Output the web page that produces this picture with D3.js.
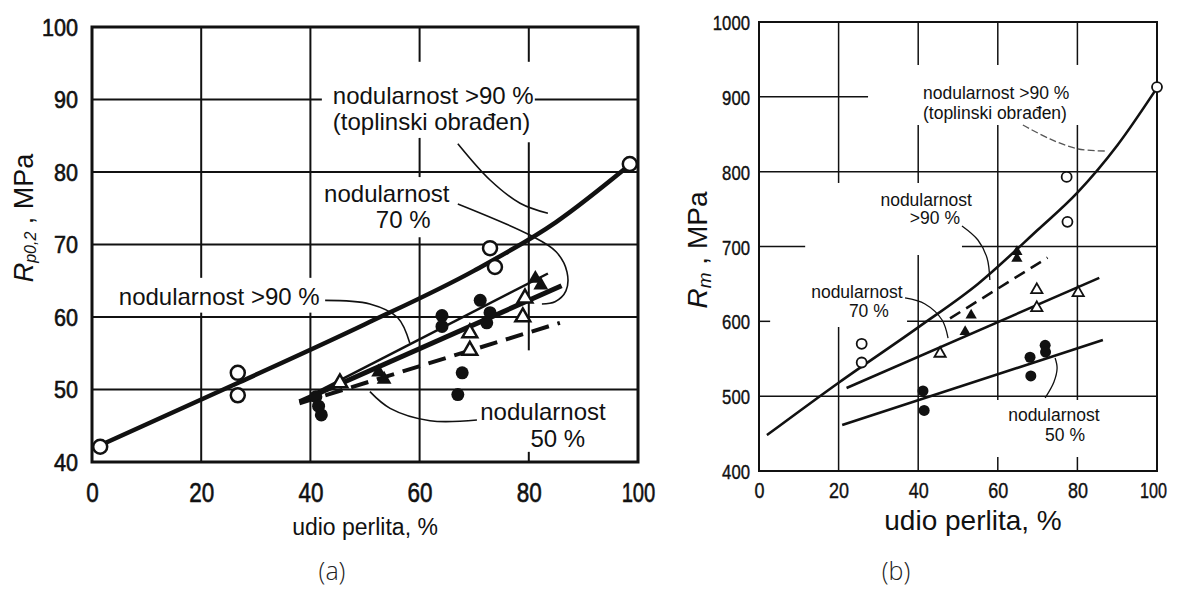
<!DOCTYPE html>
<html>
<head>
<meta charset="utf-8">
<script src="https://cdn.jsdelivr.net/npm/d3@7"></script>
<style>
  html, body { margin: 0; padding: 0; background: #fff; }
  svg { display: block; }
</style>
</head>
<body>
<svg id="fig" width="1177" height="593"></svg>
<script>
// ---------- shared tick values ----------
const xTicks = [0, 20, 40, 60, 80, 100];
const aYTicks = [40, 50, 60, 70, 80, 90, 100];
const bYTicks = [400, 500, 600, 700, 800, 900, 1000];

// ---------- panel (a): yield strength Rp0,2 [MPa] vs pearlite share [%] ----------
const aHeatTreatedPts = [[1.5, 42.1], [26.7, 52.3], [26.7, 49.2], [72.9, 69.5], [73.8, 66.9], [98.5, 81.1]];
const aHeatTreatedLine = [[1.5, 42.3], [27, 51], [50, 59], [70, 66.4], [85, 73.1], [98.5, 81]];
const aNod90Line = [[38, 48.3], [86, 64.3]];
const aNod70Line = [[40, 49.2], [83.5, 66]];
const aNod50Line = [[38, 48.1], [85.7, 59.2]];
const aOpenTriangles = [[45.4, 50.9], [69.2, 57.8], [69.2, 55.4], [79.3, 62.6], [78.9, 60.0]];
const aFilledTriangles = [[52.5, 52.4], [53.5, 51.4], [81.2, 65.3], [82.2, 64.4]];
const aFilledCircles = [[41, 49], [41.5, 47.7], [42, 46.5], [64.1, 60.2], [64.1, 58.7],
                        [71.1, 62.3], [72.9, 60.6], [72.3, 59.2], [67.8, 52.3], [67, 49.3]];

// ---------- panel (b): tensile strength Rm [MPa] vs pearlite share [%] ----------
const bHeatTreatedPts = [[25.8, 545], [25.8, 570], [77.3, 793], [77.5, 733], [100, 913]];
const bHeatTreatedLine = [[2, 448], [20, 518], [40, 592], [55, 650], [70, 722], [80, 772], [90, 835], [100, 912]];
const bNod90Line = [[48, 604], [72.5, 685]];
const bNod70Line = [[22, 511], [85.5, 658]];
const bNod50Line = [[20.9, 461.5], [86.4, 575]];
const bOpenTriangles = [[45.5, 557], [69.8, 642], [69.8, 618], [80.2, 638]];
const bFilledTriangles = [[51.8, 586], [53.3, 608], [64.8, 684], [64.8, 693]];
const bFilledCircles = [[41.2, 507], [41.5, 481], [68.1, 552], [68.3, 527], [71.9, 568], [72, 559]];

// ---------- page ----------
const svg = d3.select('#fig');
svg.append('rect').attr('width', 1177).attr('height', 593).attr('fill', '#fff');

const INK = '#111';
const SANS = "'Liberation Sans', Arial, Helvetica, sans-serif";
const NARROW = "'Liberation Sans Narrow', 'Arial Narrow', 'Liberation Sans', sans-serif";
const plain = d3.format('d');

// split [lo, hi] into visible pieces, leaving out the given gaps
function pieces(lo, hi, gaps) {
  const segs = [];
  let start = lo;
  gaps.slice().sort((p, q) => p[0] - q[0]).forEach(([g0, g1]) => {
    if (g0 > start) segs.push([start, g0]);
    start = Math.max(start, g1);
  });
  if (start < hi) segs.push([start, hi]);
  return segs;
}

function drawPanel(p) {
  const g = svg.append('g');
  const { x, y } = p;
  const [x0, x1] = x.domain();
  const [y0, y1] = y.domain();

  // grid (interrupted where text sits)
  const grid = g.append('g').attr('stroke', INK).attr('stroke-width', p.gridWidth).attr('fill', 'none');
  Object.entries(p.vGaps).forEach(([xv, gaps]) => {
    pieces(y0, y1, gaps).forEach(([a, b]) => {
      grid.append('line').attr('x1', x(+xv)).attr('x2', x(+xv)).attr('y1', y(a)).attr('y2', y(b));
    });
  });
  Object.entries(p.hGaps).forEach(([yv, gaps]) => {
    pieces(x0, x1, gaps).forEach(([a, b]) => {
      grid.append('line').attr('y1', y(+yv)).attr('y2', y(+yv)).attr('x1', x(a)).attr('x2', x(b));
    });
  });

  // frame
  g.append('rect')
    .attr('x', x(x0)).attr('y', y(y1))
    .attr('width', x(x1) - x(x0)).attr('height', y(y0) - y(y1))
    .attr('fill', 'none').attr('stroke', INK).attr('stroke-width', p.frameWidth);

  // tick labels
  const ax = g.append('g')
    .attr('transform', `translate(0,${y(y0) + p.xLabelOffset})`)
    .call(d3.axisBottom(x).tickValues(xTicks).tickFormat(plain).tickSize(0).tickPadding(0));
  ax.select('.domain').remove();
  ax.attr('font-family', NARROW).attr('font-size', p.xTickFont);
  ax.selectAll('text')
    .attr('dy', '0.36em').attr('fill', INK).attr('stroke', INK).attr('stroke-width', p.tickStroke)
    .attr('dx', d => d === 100 ? p.lastTickShift : 0)
    .attr('textLength', d => String(d).length * p.xTickCharW - (d === 100 ? p.xTickCharW * 0.3 : 0))
    .attr('lengthAdjust', 'spacingAndGlyphs');

  const ay = g.append('g')
    .attr('transform', `translate(${x(x0) - p.yLabelOffset},0)`)
    .call(d3.axisLeft(y).tickValues(p.yTicks).tickFormat(plain).tickSize(0).tickPadding(0));
  ay.select('.domain').remove();
  ay.attr('font-family', NARROW).attr('font-size', p.yTickFont);
  ay.selectAll('text')
    .attr('dy', '0.36em').attr('fill', INK).attr('stroke', INK).attr('stroke-width', p.tickStroke)
    .attr('textLength', d => String(d).length * p.yTickCharW)
    .attr('lengthAdjust', 'spacingAndGlyphs');

  // fitted lines
  const straight = d3.line().x(d => x(d[0])).y(d => y(d[1]));
  const smooth = d3.line().x(d => x(d[0])).y(d => y(d[1])).curve(d3.curveMonotoneX);
  p.lines.forEach(l => {
    g.append('path').datum(l.data)
      .attr('d', l.curved ? smooth : straight)
      .attr('fill', 'none').attr('stroke', INK)
      .attr('stroke-width', l.width)
      .attr('stroke-dasharray', l.dash || null);
  });

  // markers
  const tri = d3.symbol().type(d3.symbolTriangle).size(p.triSize);
  g.append('g').selectAll('path.ft').data(p.filledTriangles).join('path')
    .attr('transform', d => `translate(${x(d[0])},${y(d[1])})`)
    .attr('d', tri).attr('fill', INK);
  g.append('g').selectAll('circle').data(p.filledCircles).join('circle')
    .attr('cx', d => x(d[0])).attr('cy', d => y(d[1])).attr('r', p.dotR).attr('fill', INK);
  g.append('g').selectAll('path.ot').data(p.openTriangles).join('path')
    .attr('transform', d => `translate(${x(d[0])},${y(d[1])})`)
    .attr('d', tri).attr('fill', '#fff').attr('stroke', INK).attr('stroke-width', p.markStroke);
  g.append('g').selectAll('circle').data(p.openCircles).join('circle')
    .attr('cx', d => x(d[0])).attr('cy', d => y(d[1])).attr('r', p.ringR)
    .attr('fill', '#fff').attr('stroke', INK).attr('stroke-width', p.markStroke);

  // annotation leaders
  const leader = d3.line().x(d => x(d[0])).y(d => y(d[1])).curve(d3.curveCatmullRom.alpha(0.5));
  p.leaders.forEach(l => {
    g.append('path').datum(l.pts).attr('d', leader)
      .attr('fill', 'none').attr('stroke', l.color || INK)
      .attr('stroke-width', p.leaderWidth)
      .attr('stroke-dasharray', l.dash || null);
  });

  // annotation text
  p.notes.forEach(n => {
    g.append('text')
      .attr('x', x(n.at[0])).attr('y', y(n.at[1]))
      .attr('text-anchor', n.anchor || 'middle')
      .attr('dominant-baseline', 'central')
      .attr('font-family', SANS).attr('font-size', p.noteFont)
      .attr('fill', INK)
      .text(n.text);
  });

  // axis titles
  g.append('text')
    .attr('x', p.xTitle.x).attr('y', p.xTitle.y)
    .attr('text-anchor', 'middle').attr('dominant-baseline', 'central')
    .attr('font-family', SANS).attr('font-size', p.xTitle.size).attr('fill', INK)
    .text('udio perlita, %');

  const yt = g.append('text')
    .attr('transform', `translate(${p.yTitle.x},${p.yTitle.y}) rotate(-90)`)
    .attr('text-anchor', 'middle').attr('dominant-baseline', 'central')
    .attr('font-family', SANS).attr('font-size', p.yTitle.size).attr('fill', INK);
  yt.append('tspan').attr('font-style', 'italic').text('R');
  yt.append('tspan').attr('font-style', 'italic').attr('font-size', p.yTitle.subSize)
    .attr('dy', p.yTitle.subShift).text(p.yTitle.sub);
  yt.append('tspan').attr('dy', -p.yTitle.subShift).text('\u00a0,\u00a0MPa');

  // panel caption
  g.append('text')
    .attr('x', p.caption.x).attr('y', p.caption.y)
    .attr('text-anchor', 'middle').attr('dominant-baseline', 'central')
    .attr('font-family', "'Open Sans', 'Noto Sans', sans-serif").attr('font-weight', 300)
    .attr('font-size', 25).attr('fill', '#222')
    .text(p.caption.text);
}

// ---------- panel (a) ----------
drawPanel({
  x: d3.scaleLinear().domain([0, 100]).range([92, 638]),
  y: d3.scaleLinear().domain([40, 100]).range([462, 27]),
  yTicks: aYTicks,
  gridWidth: 2, frameWidth: 3,
  vGaps: { 20: [[60.6, 65.4]], 40: [[60.6, 65.4]], 60: [[71, 79.3], [84.7, 95.2]], 80: [[41.4, 55.4], [84.1, 95.2]] },
  hGaps: { 50: [], 60: [], 70: [], 80: [], 90: [[42.1, 81.1]] },
  xLabelOffset: 30, xTickFont: 28, xTickCharW: 12.5, lastTickShift: 0,
  yLabelOffset: 14, yTickFont: 23, yTickCharW: 12,
  tickStroke: 0.6,
  lines: [
    { data: aHeatTreatedLine, width: 4.5, curved: true },
    { data: aNod90Line, width: 5 },
    { data: aNod70Line, width: 2.5 },
    { data: aNod50Line, width: 4, dash: '18,9' }
  ],
  openCircles: aHeatTreatedPts, ringR: 7,
  filledCircles: aFilledCircles, dotR: 6.5,
  openTriangles: aOpenTriangles, filledTriangles: aFilledTriangles,
  triSize: 95, markStroke: 2.5,
  leaderWidth: 1.6,
  leaders: [
    { pts: [[67.0, 83.9], [72.9, 78.9], [78.4, 75.7], [83.5, 74.3]] },
    { pts: [[67.0, 75.6], [80.2, 71.3], [85.0, 69.0], [87.0, 66.2], [86.8, 63.6], [84.8, 62.1], [82.4, 61.8]] },
    { pts: [[42.7, 62.3], [50.9, 61.8], [56.0, 59.9], [58.2, 56.4]] },
    { pts: [[70.5, 45.8], [61.9, 45.7], [54.6, 47.4], [50.9, 49.7]] }
  ],
  noteFont: 24,
  notes: [
    { text: 'nodularnost >90 %', at: [44.1, 90.6], anchor: 'start' },
    { text: '(toplinski obrađen)', at: [44.1, 86.9], anchor: 'start' },
    { text: 'nodularnost', at: [54.0, 77.1] },
    { text: '70 %', at: [57.0, 73.4] },
    { text: 'nodularnost >90 %', at: [23.3, 62.8] },
    { text: 'nodularnost', at: [82.6, 46.9] },
    { text: '50 %', at: [85.3, 43.3] }
  ],
  xTitle: { x: 365, y: 527, size: 23 },
  yTitle: { x: 24, y: 218, size: 27, sub: 'p0,2', subSize: 16, subShift: 6 },
  caption: { x: 332, y: 570, text: '(a)' }
});

// ---------- panel (b) ----------
drawPanel({
  x: d3.scaleLinear().domain([0, 100]).range([759, 1157]),
  y: d3.scaleLinear().domain([400, 1000]).range([471, 22]),
  yTicks: bYTicks,
  gridWidth: 1.5, frameWidth: 2,
  vGaps: { 20: [[592.4, 784.9]], 40: [[688.7, 784.9], [862.4, 942.6]], 60: [[418.7, 494.9], [862.4, 942.6]], 80: [[418.7, 494.9], [862.4, 942.6]] },
  hGaps: { 500: [], 600: [[2.8, 37.2]], 700: [[11.6, 51]], 800: [], 900: [[27.4, 100]] },
  xLabelOffset: 19, xTickFont: 22, xTickCharW: 10, lastTickShift: -4,
  yLabelOffset: 9, yTickFont: 21, yTickCharW: 9.3,
  tickStroke: 0.4,
  lines: [
    { data: bHeatTreatedLine, width: 2.6, curved: true },
    { data: bNod90Line, width: 2.6, dash: '12,7' },
    { data: bNod70Line, width: 2.6 },
    { data: bNod50Line, width: 2.6 }
  ],
  openCircles: bHeatTreatedPts, ringR: 5,
  filledCircles: bFilledCircles, dotR: 5.5,
  openTriangles: bOpenTriangles, filledTriangles: bFilledTriangles,
  triSize: 55, markStroke: 1.8,
  leaderWidth: 1.3,
  leaders: [
    { pts: [[66.3, 862.4], [73.1, 843.7], [80.2, 830.3], [87.4, 827.6]], dash: '7,3', color: '#555' },
    { pts: [[51.0, 727.4], [55.0, 708.7], [57.3, 684.6], [58.0, 655.2]] },
    { pts: [[36.7, 631.2], [41.7, 623.2], [46.0, 601.8], [47.5, 577.7]] },
    { pts: [[71.9, 497.6], [74.1, 518.9], [74.9, 537.6], [74.4, 551.0]] }
  ],
  noteFont: 17.5,
  notes: [
    { text: 'nodularnost >90 %', at: [41.2, 905.1], anchor: 'start' },
    { text: '(toplinski obrađen)', at: [41.2, 878.4], anchor: 'start' },
    { text: 'nodularnost', at: [42.0, 762.2] },
    { text: '>90 %', at: [44.2, 738.1] },
    { text: 'nodularnost', at: [24.6, 639.2] },
    { text: '70 %', at: [27.6, 613.8] },
    { text: 'nodularnost', at: [74.1, 474.8] },
    { text: '50 %', at: [76.9, 448.1] }
  ],
  xTitle: { x: 973, y: 520, size: 28 },
  yTitle: { x: 697, y: 250, size: 28, sub: 'm', subSize: 19, subShift: 7 },
  caption: { x: 896, y: 570, text: '(b)' }
});
</script>
</body>
</html>
